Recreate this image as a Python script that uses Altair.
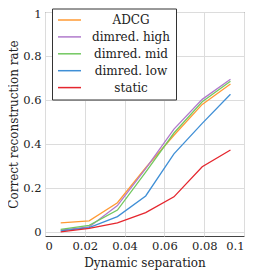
import altair as alt
import pandas as pd

x_vals = [0.0079, 0.0222, 0.0364, 0.0506, 0.0648, 0.079, 0.0932]
series_names = ["ADCG", "dimred. high", "dimred. mid", "dimred. low", "static"]
adcg = [0.042, 0.051, 0.133, 0.292, 0.44, 0.58, 0.673]
high = [0.009, 0.023, 0.12, 0.288, 0.468, 0.603, 0.694]
mid = [0.012, 0.03, 0.10, 0.272, 0.45, 0.592, 0.685]
low = [0.005, 0.02, 0.07, 0.164, 0.355, 0.494, 0.626]
static = [0.001, 0.017, 0.042, 0.088, 0.16, 0.297, 0.373]
colors = ["#ff9a33", "#b07acc", "#72c860", "#3f8fd6", "#e5262e"]

x_ticks = [0, 0.02, 0.04, 0.06, 0.08, 0.1]
y_ticks = [0, 0.2, 0.4, 0.6, 0.8, 1.0]

rows = []
for name, vals in zip(series_names, [adcg, high, mid, low, static]):
    for i, (xv, yv) in enumerate(zip(x_vals, vals)):
        rows.append({"series": name, "x": xv, "y": yv, "order": i})
df = pd.DataFrame(rows)

FONT = "DejaVu Serif"

chart = alt.Chart(df).mark_line(strokeWidth=1.3).encode(
    x=alt.X("x:Q", scale=alt.Scale(domain=[0, 0.1], nice=False, zero=False),
            axis=alt.Axis(values=x_ticks, title="Dynamic separation",
                          labelExpr="datum.value == 0 ? '0' : format(datum.value, '.2~f')")),
    y=alt.Y("y:Q", scale=alt.Scale(domain=[-0.018, 1.0], nice=False, zero=False),
            axis=alt.Axis(values=y_ticks, title="Correct reconstruction rate",
                          titleX=-36.5, titleBaseline="top",
                          labelFlush=1, labelFlushOffset=4,
                          labelExpr="datum.value == 0 ? '0' : format(datum.value, '.1~f')")),
    color=alt.Color("series:N", scale=alt.Scale(domain=series_names, range=colors),
                    legend=alt.Legend(title=None, orient="none", legendX=7, legendY=-3.5,
                                      symbolType="M-2,0H2", symbolSize=132, symbolStrokeWidth=1.5,
                                      symbolOffset=6,
                                      labelAlign="center", labelOffset=55,
                                      labelFont=FONT, labelFontSize=12, labelColor="#222",
                                      fillColor="white", strokeColor="#333", padding=5,
                                      rowPadding=3.9)),
    order="order:O",
).properties(
    width=199, height=224,
    autosize=alt.AutoSizeParams(type="none"),
    padding={"left": 37, "top": 4, "right": 6, "bottom": 40},
).configure_view(
    stroke="#444", strokeWidth=1
).configure_axis(
    grid=True, gridColor="#dcdcdc", gridWidth=1, domain=False, ticks=False,
    labelFont=FONT, labelFontSize=11.5, labelColor="#222", labelPadding=4,
    titleFont=FONT, titleFontSize=12, titleFontWeight="normal", titleColor="#222",
).configure_axisX(titlePadding=6)

chart.save("out.html", embed_options={"renderer": "svg", "actions": False})
